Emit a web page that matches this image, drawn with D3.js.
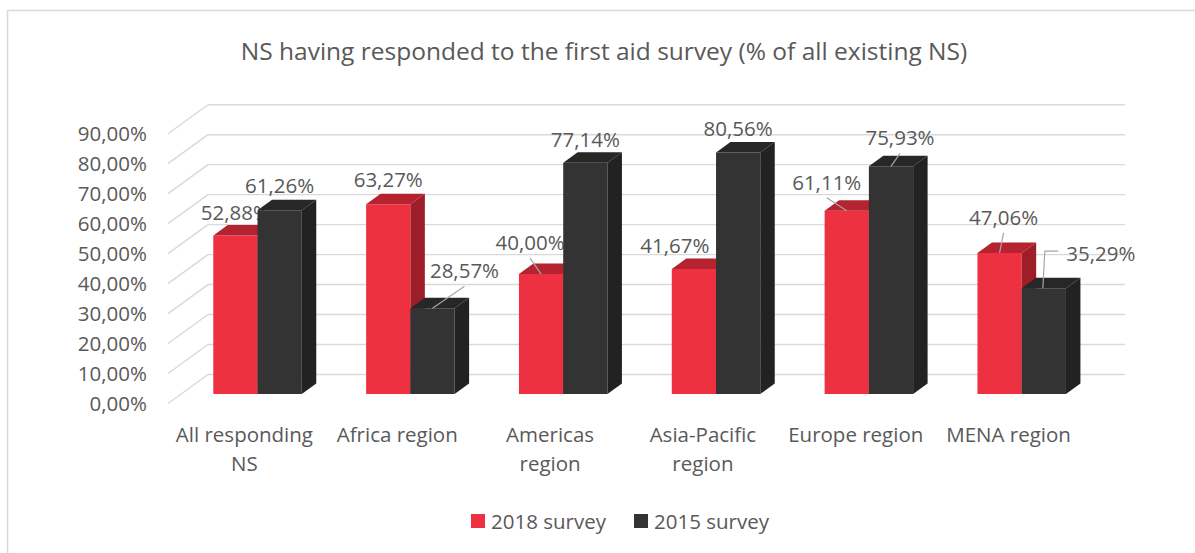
<!DOCTYPE html>
<html>
<head>
<meta charset="utf-8">
<script src="https://cdn.jsdelivr.net/npm/d3@7"></script>
<style>
  html, body { margin: 0; padding: 0; background: #ffffff; }
  svg { display: block; }
  text { font-family: "Open Sans", "Noto Sans", sans-serif; fill: #595959; }
</style>
</head>
<body>
<svg id="chart" width="1195" height="553"></svg>
<script>
// ---- data ----
const categories = ["All responding NS", "Africa region", "Americas region",
                    "Asia-Pacific region", "Europe region", "MENA region"];
const seriesNames = ["2018 survey", "2015 survey"];
const values2018 = [52.88, 63.27, 40.00, 41.67, 61.11, 47.06];
const values2015 = [61.26, 28.57, 77.14, 80.56, 75.93, 35.29];
const yTicks = [0, 10, 20, 30, 40, 50, 60, 70, 80, 90];
const chartTitle = "NS having responded to the first aid survey (% of all existing NS)";

// label nudges (px, relative to the bar's top-front centre) and leader style
const labelNudge2018 = [[0, -23, null], [0, -25, null], [-11, -32, "down"],
                        [-19, -24, null], [-20, -29, "down"], [4, -36, "down"]];
const labelNudge2015 = [[0, -25, null], [32, -38, "down"], [0, -24, null],
                        [0, -24, null], [9, -29, "down"], [57, -35, "elbow"]];

// ---- styling ----
const colors = {
  "2018 survey": { front: "#ee3140", top: "#b52230", side: "#9d1d28" },
  "2015 survey": { front: "#333333", top: "#272727", side: "#222222" }
};
const gridColor = "#d9d9d9";
const leaderColor = "#a6a6a6";

const svg = d3.select("#chart");

// chart frame
svg.append("rect")
  .attr("x", 7.5).attr("y", 10.5)
  .attr("width", 1195).attr("height", 553)
  .attr("fill", "none").attr("stroke", "#d9d9d9").attr("stroke-width", 1.5);

// ---- 3D projection: back wall plane with a depth vector toward the viewer ----
const wallLeft = 208, wallRight = 1125;
const depthX = -40, depthY = 29;          // full-depth offset (back wall -> front edge)
const dFront = 0.672, dBack = 0.31;       // bar front / back face depths

const x = d3.scaleBand().domain(categories).range([wallLeft, wallRight]).padding(0);
const xs = d3.scaleBand().domain(seriesNames).range([0, x.bandwidth()])
  .paddingInner(0).paddingOuter(0.727);
const y = d3.scaleLinear().domain([0, 90]).range([374.5, 104.7]);

const proj = (px, v, d) => [px + depthX * d, y(v) + depthY * d];

// back wall gridlines
svg.append("g").selectAll("line").data(yTicks).join("line")
  .attr("x1", wallLeft).attr("x2", wallRight)
  .attr("y1", d => y(d)).attr("y2", d => y(d))
  .attr("stroke", gridColor).attr("stroke-width", 1.4);

// side wall gridlines
svg.append("g").selectAll("line").data(yTicks).join("line")
  .attr("x1", wallLeft).attr("y1", d => y(d))
  .attr("x2", wallLeft + depthX).attr("y2", d => y(d) + depthY)
  .attr("stroke", gridColor).attr("stroke-width", 1.4);

// y axis labels on the front plane
const fmt = d3.formatLocale({ decimal: ",", thousands: ".", grouping: [3], currency: ["", ""] })
  .format(".2%");
const yFront = y.copy().range(y.range().map(r => r + depthY));
const yAxis = svg.append("g")
  .attr("transform", `translate(${wallLeft + depthX - 13},0)`)
  .call(d3.axisLeft(yFront).tickValues(yTicks).tickSize(0).tickPadding(8)
    .tickFormat(d => fmt(d / 100)));
yAxis.select(".domain").remove();
yAxis.selectAll("text")
  .style("font-family", '"Open Sans", "Noto Sans", sans-serif')
  .style("font-size", "20.5px").attr("fill", "#595959");

// ---- bars ----
function barGeom(cat, series, v) {
  const x0 = x(cat) + xs(series), x1 = x0 + xs.bandwidth();
  const fTL = proj(x0, v, dFront), fTR = proj(x1, v, dFront), fBR = proj(x1, 0, dFront);
  const bTL = proj(x0, v, dBack), bTR = proj(x1, v, dBack), bBR = proj(x1, 0, dBack);
  const fBL = proj(x0, 0, dFront);
  return {
    front: [fTL, fTR, fBR, fBL],
    top: [fTL, fTR, bTR, bTL],
    side: [fTR, bTR, bBR, fBR],
    anchor: [(fTL[0] + fTR[0]) / 2, fTL[1]]
  };
}
const pts = p => p.map(q => q.join(",")).join(" ");

function drawBars(series, vals) {
  const g = svg.append("g");
  const c = colors[series];
  const bars = g.selectAll("g").data(categories.map((cat, i) => barGeom(cat, series, vals[i])))
    .join("g");
  bars.append("polygon").attr("points", d => pts(d.front)).attr("fill", c.front);
  bars.append("polygon").attr("points", d => pts(d.top)).attr("fill", c.top);
  bars.append("polygon").attr("points", d => pts(d.side)).attr("fill", c.side);
}

function drawLabels(series, vals, nudges) {
  const g = svg.append("g");
  categories.forEach((cat, i) => {
    const a = barGeom(cat, series, vals[i]).anchor;
    const [dx, dy, leader] = nudges[i];
    const lx = a[0] + dx, ly = a[1] + dy;
    const t = g.append("text")
      .attr("x", lx).attr("y", ly)
      .attr("text-anchor", "middle").attr("dominant-baseline", "central")
      .style("font-size", "20.5px")
      .text(fmt(vals[i] / 100));
    if (leader === "down") {
      g.append("line")
        .attr("x1", a[0]).attr("y1", a[1])
        .attr("x2", lx).attr("y2", ly + 16)
        .attr("stroke", leaderColor).attr("stroke-width", 1.2);
    } else if (leader === "elbow") {
      const w = t.node().getComputedTextLength();
      g.append("polyline")
        .attr("points", pts([[a[0] - 1, a[1]], [a[0] + 1, ly - 2], [lx - w / 2 - 8, ly - 2]]))
        .attr("fill", "none").attr("stroke", leaderColor).attr("stroke-width", 1.2);
    }
  });
}

drawBars(seriesNames[0], values2018);
drawLabels(seriesNames[0], values2018, labelNudge2018);
drawBars(seriesNames[1], values2015);
drawLabels(seriesNames[1], values2015, labelNudge2015);

// ---- category labels (front edge of the floor), wrapped to the band width ----
const catG = svg.append("g");
categories.forEach(cat => {
  const cx = x(cat) + x.bandwidth() / 2 + depthX;
  const t = catG.append("text")
    .attr("x", cx).attr("y", 434)
    .attr("text-anchor", "middle").attr("dominant-baseline", "central")
    .style("font-size", "20.5px").text(cat);
  if (t.node().getComputedTextLength() > 150) {
    const words = cat.split(" ");
    const last = words.pop();
    t.text(words.join(" "));
    catG.append("text")
      .attr("x", cx).attr("y", 463)
      .attr("text-anchor", "middle").attr("dominant-baseline", "central")
      .style("font-size", "20.5px").text(last);
  }
});

// ---- title ----
svg.append("text")
  .attr("x", 604).attr("y", 50)
  .attr("text-anchor", "middle").attr("dominant-baseline", "central")
  .style("font-size", "24.5px")
  .text(chartTitle);

// ---- legend ----
const legend = svg.append("g");
const legendX = [471, 634];
seriesNames.forEach((s, i) => {
  legend.append("rect")
    .attr("x", legendX[i]).attr("y", 514)
    .attr("width", 14).attr("height", 14)
    .attr("fill", colors[s].front);
  legend.append("text")
    .attr("x", legendX[i] + 20).attr("y", 521)
    .attr("dominant-baseline", "central")
    .style("font-size", "20.5px")
    .text(s);
});
</script>
</body>
</html>
